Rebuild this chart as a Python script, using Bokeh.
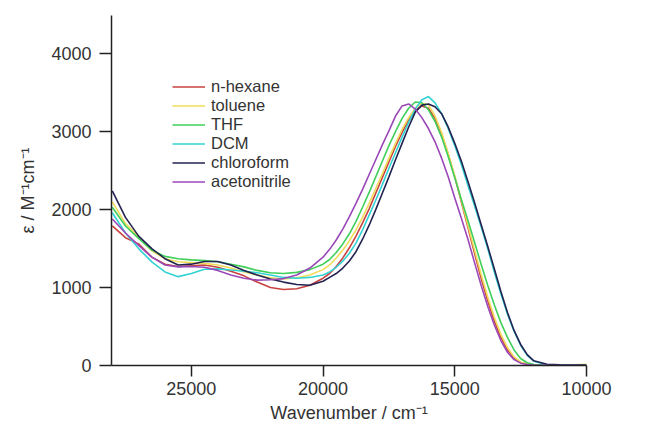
from bokeh.plotting import figure
from bokeh.models import Range1d, FixedTicker, Legend, LegendItem, PrintfTickFormatter
from bokeh.embed import file_html
from bokeh.resources import INLINE

wavenumber = [28000, 27500, 27000, 26500, 26000, 25500, 25000, 24500, 24000, 23500, 23000, 22500, 22000, 21500, 21000, 20500, 20000,
              19750, 19500, 19250, 19000, 18750, 18500, 18250, 18000, 17750, 17500, 17250, 17000, 16750, 16500, 16250, 16000,
              15750, 15500, 15250, 15000, 14750, 14500, 14250, 14000, 13750, 13500, 13250, 13000, 12750, 12500, 12250, 12000,
              11500, 11000, 10500, 10000]

n_hexane = [1790, 1640, 1560, 1390, 1300, 1270, 1280, 1290, 1260, 1210, 1150, 1070, 1000, 975, 985, 1030, 1120,
            1180, 1270, 1380, 1510, 1660, 1830, 2010, 2210, 2410, 2610, 2810, 2990, 3150, 3270, 3330, 3300,
            3170, 2970, 2710, 2420, 2100, 1770, 1440, 1120, 830, 570, 360, 200, 95, 38, 15, 6,
            3, 2, 2, 2]
toluene = [2100, 1820, 1650, 1470, 1370, 1330, 1320, 1310, 1290, 1250, 1200, 1160, 1125, 1110, 1125, 1160, 1230,
           1290, 1380, 1480, 1600, 1740, 1900, 2080, 2270, 2460, 2660, 2850, 3030, 3180, 3300, 3365, 3345,
           3200, 2990, 2720, 2430, 2120, 1800, 1480, 1170, 880, 620, 400, 230, 110, 45, 18, 8,
           6, 8, 10, 15]
thf = [2030, 1790, 1630, 1480, 1400, 1370, 1355, 1345, 1330, 1300, 1265, 1220, 1190, 1180, 1195, 1230, 1300,
       1360, 1450, 1560, 1690, 1850, 2030, 2220, 2420, 2620, 2820, 3000, 3170, 3300, 3380, 3370, 3280,
       3130, 2930, 2680, 2410, 2130, 1860, 1580, 1300, 1030, 780, 550, 360, 200, 90, 35, 12,
       5, 3, 2, 2]
dcm = [1960, 1700, 1500, 1330, 1200, 1140, 1180, 1235, 1240, 1225, 1210, 1190, 1160, 1130, 1120, 1130, 1160,
       1200, 1260, 1340, 1440, 1570, 1740, 1930, 2120, 2320, 2530, 2730, 2930, 3120, 3290, 3410, 3450,
       3370, 3230, 3040, 2820, 2580, 2310, 2050, 1780, 1500, 1200, 920, 660, 440, 260, 130, 55,
       10, 5, 5, 5]
chloroform = [2240, 1900, 1660, 1500, 1370, 1290, 1300, 1335, 1335, 1290, 1220, 1160, 1110, 1070, 1040, 1030, 1080,
              1130, 1180, 1250, 1340, 1460, 1620, 1800, 2000, 2210, 2420, 2640, 2850, 3060, 3250, 3340, 3355,
              3320, 3230, 3060, 2850, 2620, 2360, 2090, 1810, 1530, 1240, 950, 680, 450, 270, 140, 60,
              15, 8, 5, 5]
acetonitrile = [1880, 1700, 1540, 1390, 1290, 1265, 1270, 1260, 1220, 1160, 1120, 1095, 1100, 1115, 1160, 1250, 1390,
                1490, 1610, 1750, 1910, 2080, 2260, 2450, 2640, 2830, 3010, 3200, 3330, 3355, 3290, 3180, 3040,
                2870, 2660, 2420, 2150, 1890, 1620, 1320, 1030, 760, 520, 320, 170, 75, 30, 12, 5,
                2, 0, 0, 0]

series_names = ["n-hexane", "toluene", "THF", "DCM", "chloroform", "acetonitrile"]
series_values = [n_hexane, toluene, thf, dcm, chloroform, acetonitrile]
series_colors = ["#c8423f", "#f0dc5a", "#3fcf5a", "#33d3d3", "#232352", "#9a48b8"]

x_ticks = [25000, 20000, 15000, 10000]
y_ticks = [0, 1000, 2000, 3000, 4000]

FONT = "Liberation Sans"
TXT = "#333333"

p = figure(width=647, height=433, output_backend="svg", toolbar_location=None,
           x_range=Range1d(28030, 10000), y_range=Range1d(0, 4490),
           min_border_left=111, min_border_right=61, min_border_top=15, min_border_bottom=68)
p.outline_line_color = None
p.xgrid.visible = False
p.ygrid.visible = False
p.background_fill_color = "white"
p.border_fill_color = "white"

items = []
for name, vals, col in zip(series_names, series_values, series_colors):
    r = p.line(wavenumber, vals, line_color=col, line_width=1.6)
    items.append(LegendItem(label=name, renderers=[r]))

p.xaxis.ticker = FixedTicker(ticks=x_ticks)
p.yaxis.ticker = FixedTicker(ticks=y_ticks)
p.xaxis.formatter = PrintfTickFormatter(format="%d")
p.yaxis.formatter = PrintfTickFormatter(format="%d")

for ax in (p.xaxis[0], p.yaxis[0]):
    ax.axis_line_color = "#222222"
    ax.axis_line_width = 1.5
    ax.major_tick_line_color = "#222222"
    ax.major_tick_line_width = 1.5
    ax.minor_tick_line_color = None
    ax.major_tick_in = 0
    ax.major_label_text_font = FONT
    ax.major_label_text_font_size = "18px"
    ax.major_label_text_color = TXT
    ax.axis_label_text_font = FONT
    ax.axis_label_text_font_size = "18px"
    ax.axis_label_text_color = TXT
    ax.axis_label_text_font_style = "normal"

p.xaxis.major_tick_out = 11
p.xaxis.major_label_standoff = 5
p.xaxis.axis_label = "Wavenumber / cm\u207b\u00b9"
p.xaxis.axis_label_standoff = 5
p.yaxis.major_tick_out = 12
p.yaxis.major_label_standoff = 8
p.yaxis.axis_label = "\u03b5 / M\u207b\u00b9cm\u207b\u00b9"
p.yaxis.axis_label_standoff = 10

legend = Legend(items=items, location=(61, 174), orientation="vertical")
legend.background_fill_alpha = 0
legend.border_line_color = None
legend.padding = 0
legend.margin = 0
legend.spacing = 0
legend.glyph_width = 33
legend.glyph_height = 19
legend.label_height = 19
legend.label_standoff = 6
legend.label_text_font = FONT
legend.label_text_font_size = "16.5px"
legend.label_text_color = TXT
p.add_layout(legend)

open("out.html", "w").write(file_html(p, INLINE))
